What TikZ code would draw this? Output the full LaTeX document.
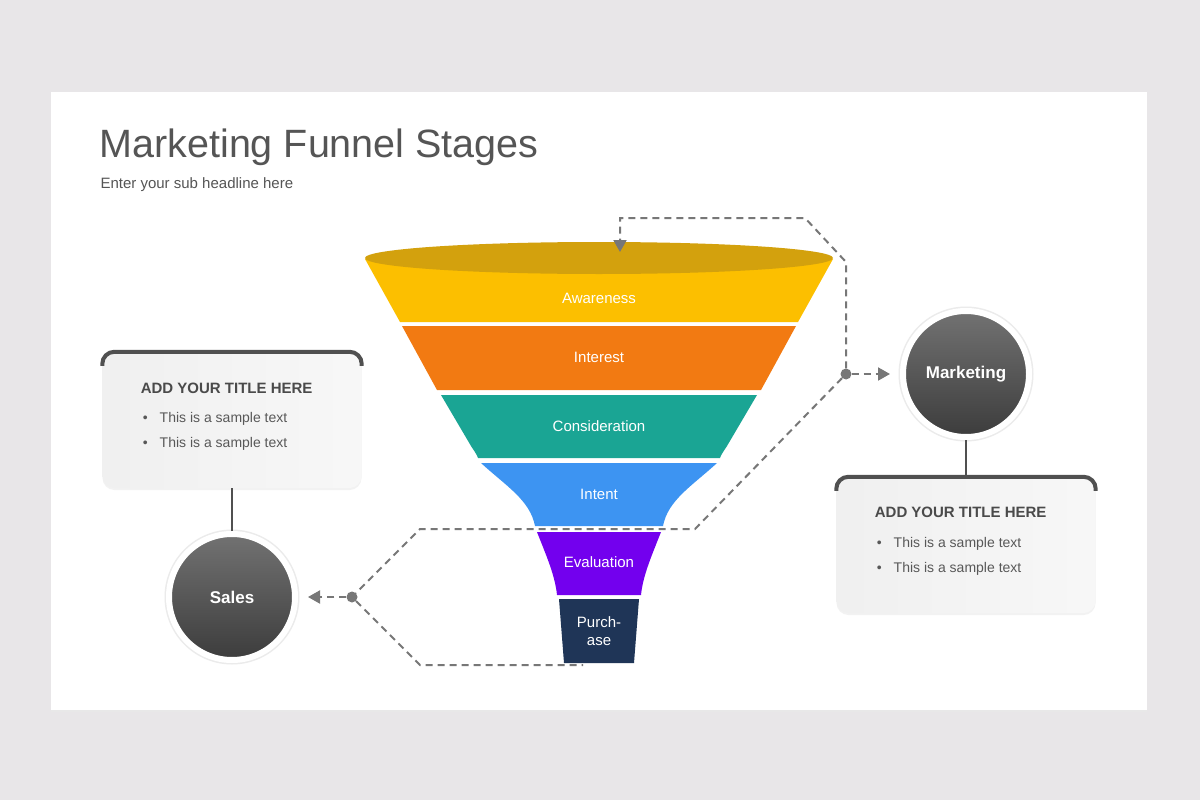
\documentclass[tikz,border=0pt]{standalone}
\usepackage{fontspec}
\setmainfont{Liberation Sans}
\usetikzlibrary{positioning,arrows.meta}
\definecolor{pagebg}{HTML}{E8E6E8}
\definecolor{headgrey}{HTML}{555555}
\definecolor{rimgold}{HTML}{D3A10D}
\definecolor{awareclr}{HTML}{FCBF00}
\definecolor{interestclr}{HTML}{F27A12}
\definecolor{considerclr}{HTML}{1AA594}
\definecolor{intentclr}{HTML}{3D94F2}
\definecolor{evalclr}{HTML}{7300EE}
\definecolor{purchaseclr}{HTML}{1F3557}
\definecolor{hubtop}{HTML}{727272}
\definecolor{hubbot}{HTML}{3C3C3C}
\definecolor{linkgrey}{HTML}{777777}
\definecolor{rimgrey}{HTML}{505050}
\definecolor{boxtext}{HTML}{4A4A4A}
\definecolor{itemtext}{HTML}{585858}

\begin{document}
\begin{tikzpicture}[x=1pt,y=-1pt,on grid,
  stage/.style={text=white,font=\fontsize{15}{18}\selectfont,align=center},
  hub/.style={circle,minimum size=126pt,inner sep=0pt,top color=hubtop,bottom color=hubbot,
    draw=white,line width=6pt,preaction={draw=black!8,line width=9pt},
    text=white,font=\bfseries\fontsize{17}{20}\selectfont},
  infobox/.style={rounded corners=12pt,minimum width=259pt,minimum height=136pt,
    left color=black!6,right color=black!3,preaction={fill=black!5,transform canvas={yshift=-2pt}}},
  boxrim/.style={draw=rimgrey,line width=4pt,rounded corners=12pt},
  boxtitle/.style={anchor=west,text=boxtext,font=\bfseries\fontsize{15}{18}\selectfont},
  boxitem/.style={anchor=west,text=itemtext,font=\fontsize{14}{17}\selectfont},
  joint/.style={circle,fill=linkgrey,minimum size=11pt,inner sep=0pt},
  link/.style={draw=linkgrey,line width=2pt,dash pattern=on 7pt off 5pt},
  tip/.style={-{Triangle[length=12pt,width=13pt]}},
  stem/.style={draw=rimgrey,line width=1.5pt}]

\fill[pagebg] (0,0) rectangle (1200,800);
\fill[black!9] (51,94) rectangle (1147,712);
\fill[white] (51,92) rectangle (1147,710);

\node[anchor=base west,text=headgrey,font=\fontsize{39.5}{46}\selectfont] (title) at (96,157) {Marketing Funnel Stages};
\node[anchor=base west,text=headgrey,font=\fontsize{15}{18}\selectfont] (subtitle) at (97,188) {Enter your sub headline here};

\fill[awareclr] (365,259) -- (833,259) -- (798,322) -- (400,322) -- cycle;
\fill[interestclr] (402,326) -- (796,326) -- (761,390) -- (437,390) -- cycle;
\fill[considerclr] (441,395) -- (757,395) -- (727,446) .. controls (723,452) and (721,455) .. (720,458)
  -- (478,458) .. controls (477,455) and (475,452) .. (471,446) -- cycle;
\fill[intentclr] (481,463) -- (717,463) .. controls (692,486) and (668,500) .. (663,526)
  -- (535,526) .. controls (530,500) and (506,486) .. (481,463) -- cycle;
\fill[evalclr] (537,532) -- (661,532) .. controls (652,555) and (643,575) .. (641,595)
  -- (557,595) .. controls (555,575) and (546,555) .. (537,532) -- cycle;
\fill[purchaseclr] (559,599) -- (639,599) -- (634,663) -- (564,663) -- cycle;
\fill[rimgold] (599,258) ellipse [x radius=234pt,y radius=16pt];

\node[stage] (aware) at (599,298) {Awareness};
\node[stage] (interest) at (599,357) {Interest};
\node[stage] (consider) at (599,426) {Consideration};
\node[stage] (intent) at (599,494) {Intent};
\node[stage] (evaluation) at (599,562) {Evaluation};
\node[stage] (purchase) at (599,631) {Purch-\\ase};

\node[hub] (mk) at (966,374) {Marketing};
\node[hub] (sales) at (232,597) {Sales};
\node[infobox] (mbox) [below=171pt of mk] {};
\node[infobox] (sbox) [above=177pt of sales] {};

\draw[boxrim] ([yshift=-14pt]sbox.north west) -- (sbox.north west) -- (sbox.north east) -- ([yshift=-14pt]sbox.north east);
\draw[boxrim] ([yshift=-14pt]mbox.north west) -- (mbox.north west) -- (mbox.north east) -- ([yshift=-14pt]mbox.north east);

\node[boxtitle] (stitle) at ([xshift=35pt,yshift=-37pt]sbox.north west) {ADD YOUR TITLE HERE};
\node[boxitem] (sitem1) at ([xshift=2pt,yshift=-30pt]stitle.west) {\textbullet\hspace{12pt}This is a sample text};
\node[boxitem] (sitem2) at ([yshift=-25pt]sitem1.west) {\textbullet\hspace{12pt}This is a sample text};
\node[boxtitle] (mtitle) at ([xshift=35pt,yshift=-36pt]mbox.north west) {ADD YOUR TITLE HERE};
\node[boxitem] (mitem1) at ([xshift=2pt,yshift=-31pt]mtitle.west) {\textbullet\hspace{12pt}This is a sample text};
\node[boxitem] (mitem2) at ([yshift=-25pt]mitem1.west) {\textbullet\hspace{12pt}This is a sample text};

\draw[stem] (mk) -- (mbox);
\draw[stem] (sales) -- (sbox);

\node[joint] (mdot) at (846,374) {};
\node[joint] (sdot) at (352,597) {};
\coordinate (rimrise) at (846,262);
\coordinate (rimbend) at (805,218);
\coordinate (rimtop) at (620,218);
\coordinate (rimtip) at (620,252);
\coordinate (midright) at (695,529);
\coordinate (midleft) at (420,529);
\coordinate (lowleft) at (420,665);
\coordinate (lowright) at (583,665);

\draw[link,tip] (mdot) -- (rimrise) -- (rimbend) -- (rimtop) -- (rimtip);
\draw[link] (mdot) -- (midright) -- (midleft) -- (sdot) -- (lowleft) -- (lowright);
\path (mdot) edge[link,tip,shorten >=10pt] (mk)
      (sdot) edge[link,tip,shorten >=10pt] (sales);
\end{tikzpicture}
\end{document}
